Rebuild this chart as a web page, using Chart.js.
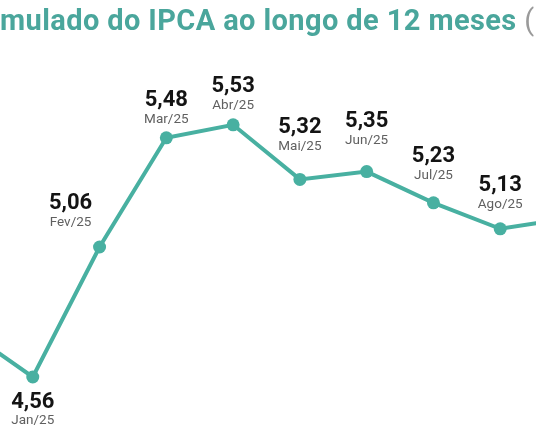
<!DOCTYPE html>
<html>
<head>
<meta charset="utf-8">
<script src="https://cdn.jsdelivr.net/npm/chart.js@4"></script>
<style>
  html, body { margin:0; padding:0; width:536px; height:430px; overflow:hidden; background:#fff; }
  #title { position:absolute; top:2px; left:0; white-space:nowrap; font-family:Roboto, sans-serif; font-weight:700; font-size:29px; letter-spacing:0.4px; color:#4aa69c; line-height:36px; z-index:2; }
  #title .unit { color:#9a9a9a; font-weight:400; }
  #wrap { position:absolute; top:0; left:-100px; width:736px; height:430px; }
</style>
</head>
<body>
<div id="title"><span id="pre">Acu</span>mulado do IPCA ao longo de 12 meses <span class="unit">(%)</span></div>
<div id="wrap"><canvas id="c"></canvas></div>
<script>
// Data
const categories = ["Dez/24","Jan/25","Fev/25","Mar/25","Abr/25","Mai/25","Jun/25","Jul/25","Ago/25","Set/25"];
const ipca12m = [4.74, 4.56, 5.06, 5.48, 5.53, 5.32, 5.35, 5.23, 5.13, 5.17];

// Label placement nudges (style only): gap from point, horizontal shift, below?
const labelGap = [20, 0, 21, 15, 16, 29, 28, 24, 21, 20];
const labelDx  = [0, 0, -29, 0, 0, 0, 0, 0, 0, 0];
const labelBelow = [false, true, false, false, false, false, false, false, false, false];

const pre = document.getElementById('pre');
document.getElementById('title').style.left = (-pre.getBoundingClientRect().width) + 'px';

const teal = '#48b0a1';

const labelPlugin = {
  id: 'pointLabels',
  afterDatasetsDraw(chart) {
    const ctx = chart.ctx;
    const meta = chart.getDatasetMeta(0);
    ctx.save();
    ctx.textAlign = 'center';
    ctx.textBaseline = 'alphabetic';
    meta.data.forEach((pt, i) => {
      const v = ipca12m[i].toFixed(2).replace('.', ',');
      const x = pt.x + labelDx[i];
      let monthBase, valueBase;
      if (labelBelow[i]) {
        valueBase = pt.y + 31;
        monthBase = pt.y + 47;
      } else {
        monthBase = pt.y - labelGap[i];
        valueBase = monthBase - 17;
      }
      ctx.fillStyle = '#141414';
      ctx.font = '700 22px Roboto, sans-serif';
      ctx.fillText(v, x, valueBase);
      ctx.fillStyle = '#606060';
      ctx.font = '400 13.5px Roboto, sans-serif';
      ctx.fillText(categories[i], x, monthBase);
    });
    ctx.restore();
  }
};

new Chart(document.getElementById('c'), {
  type: 'line',
  data: {
    labels: categories,
    datasets: [{
      data: ipca12m,
      borderColor: teal,
      backgroundColor: teal,
      borderWidth: 4,
      pointRadius: 6.5,
      pointBackgroundColor: teal,
      pointBorderWidth: 0,
      tension: 0,
      clip: false
    }]
  },
  options: {
    responsive: true,
    maintainAspectRatio: false,
    animation: false,
    layout: { padding: { left: 66, right: 69, top: 54.6, bottom: 11.4 } },
    plugins: { legend: { display: false }, tooltip: { enabled: false }, title: { display: false } },
    scales: {
      x: { display: false, offset: false },
      y: { display: false, min: 4.4, max: 5.8 }
    }
  },
  plugins: [labelPlugin]
});
</script>
</body>
</html>
